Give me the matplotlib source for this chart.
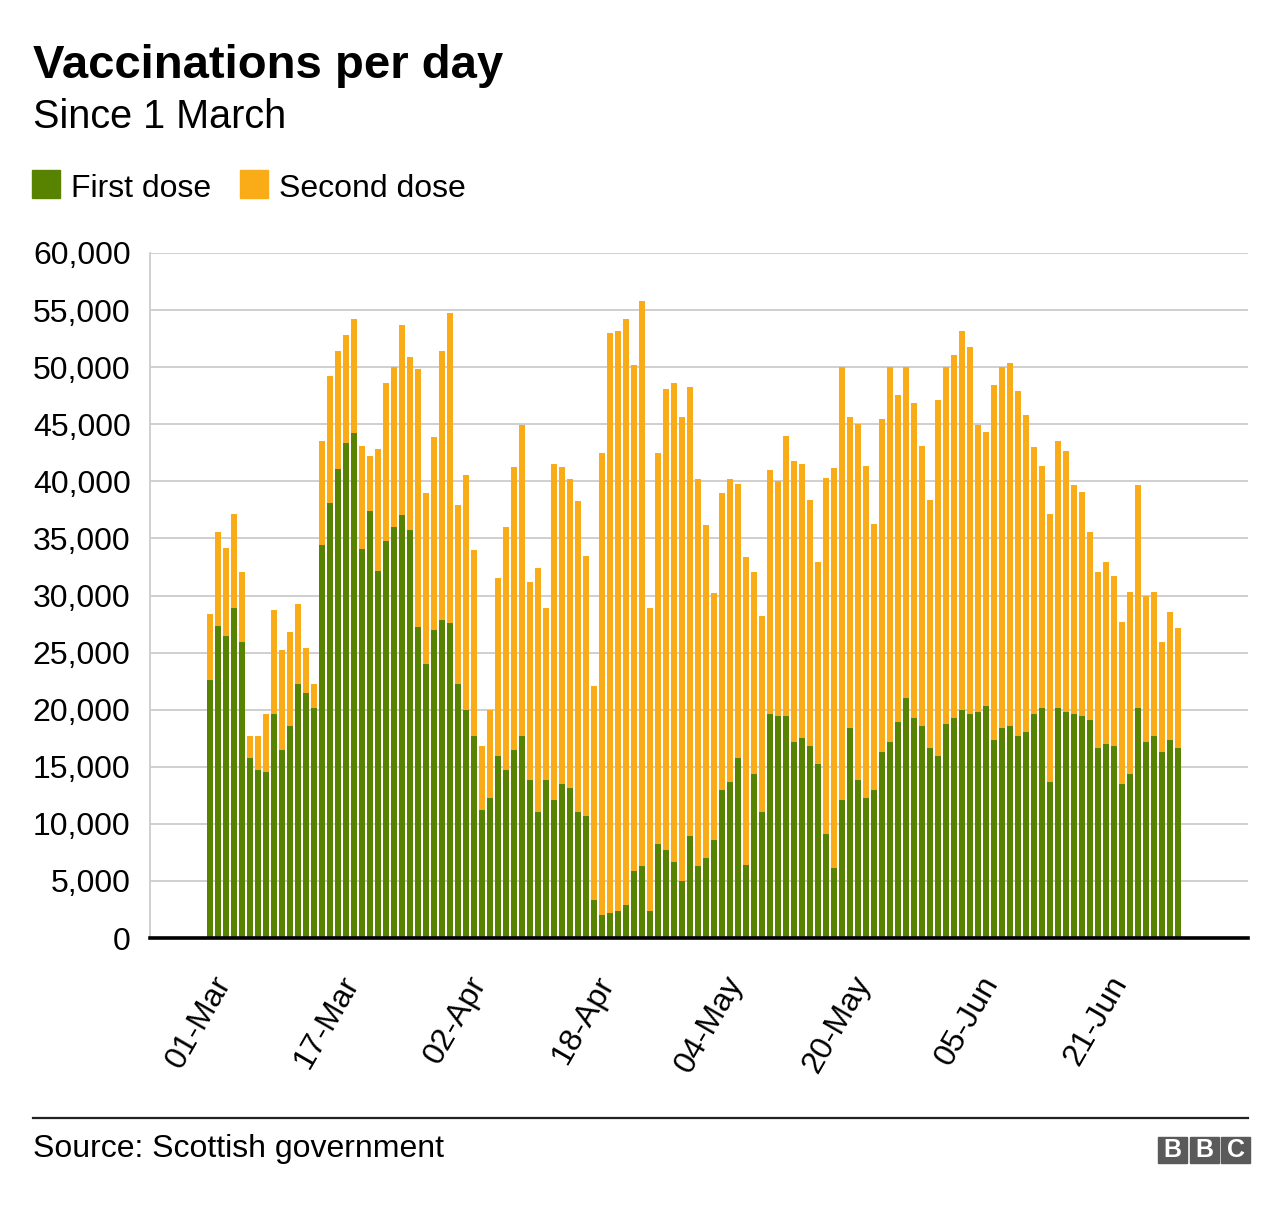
import numpy as np
import pandas as pd
import matplotlib
matplotlib.use("Agg")
import matplotlib.pyplot as plt
from matplotlib.patches import Rectangle
from matplotlib.lines import Line2D
import matplotlib.transforms as mtrans

plt.rcParams['font.family'] = ['Liberation Sans', 'DejaVu Sans']

# daily values, 1 March to 30 June
dates = pd.date_range('2021-03-01', '2021-06-30', freq='D')

first_dose = [
    22620, 27340, 26470, 28910, 25930, 15780, 14730, 14550, 19640, 16470,
    18580, 22250, 21420, 20150, 34400, 38070, 41050, 43340, 44220, 34040,
    37380, 32110, 34730, 35960, 37020, 35780, 27200, 24040, 27020, 27890,
    27560, 22250, 19960, 17710, 11200, 12250, 15960, 14730, 16470, 17710,
    13850, 11020, 13850, 12070, 13490, 13130, 11010, 10660, 3290, 2030,
    2220, 2400, 2920, 5910, 6280, 2400, 8240, 7690, 6620, 5030,
    8940, 6280, 6990, 8570, 12930, 13640, 15780, 6430, 14340, 11010,
    19590, 19420, 19420, 17160, 17490, 16800, 15240, 9090, 6110, 12070,
    18400, 13820, 12250, 12950, 16290, 17160, 18910, 21020, 19270, 18580,
    16650, 15930, 18730, 19270, 19960, 19600, 19780, 20330, 17350, 18400,
    18550, 17670, 18040, 19600, 20150, 13670, 20150, 19780, 19600, 19420,
    19090, 16620, 16980, 16800, 13490, 14360, 20150, 17160, 17710, 16290,
    17350, 16620]

second_dose = [
    5740, 8260, 7710, 8250, 6140, 1890, 2940, 5090, 9120, 8770,
    8220, 7020, 4000, 2070, 9090, 11200, 10370, 9460, 10000, 9090,
    4870, 10690, 13850, 14040, 16680, 15090, 22650, 14900, 16870, 23530,
    27200, 15640, 20580, 16290, 5600, 7710, 15600, 21230, 24760, 27190,
    17350, 21410, 15050, 29490, 27740, 27050, 27240, 22820, 18770, 40430,
    50800, 50810, 51320, 44310, 49520, 26530, 34220, 40380, 42010, 40600,
    39320, 33890, 29150, 21620, 26020, 26530, 24020, 26900, 17730, 17220,
    21440, 20580, 24580, 24580, 24070, 21600, 17700, 31230, 35090, 37930,
    27200, 31230, 29130, 23340, 29130, 32840, 28620, 28980, 27560, 24550,
    21750, 31230, 31270, 31780, 33200, 32140, 25120, 24030, 31050, 31600,
    31780, 30220, 27740, 23380, 21230, 23490, 23340, 22840, 20040, 19670,
    16510, 15450, 15960, 14940, 14220, 15970, 19490, 12800, 12620, 9640,
    11230, 10540]

GREEN = '#588300'
ORANGE = '#FAAB18'
W, H = 1280, 1206

fig = plt.figure(figsize=(W / 100, H / 100), dpi=100)
ax = fig.add_axes([150 / W, 1 - 938 / H, 1098 / W, 685 / H])

x = np.arange(len(dates))
ax.bar(x, first_dose, width=0.75, color=GREEN, zorder=2)
ax.bar(x, second_dose, width=0.75, bottom=first_dose, color=ORANGE, zorder=2)

ax.set_xlim(-7.5, 129.75)
ax.set_ylim(0, 60000)
ax.set_yticks(np.arange(0, 60001, 5000))
ax.set_yticklabels([f'{v:,}' for v in range(0, 60001, 5000)])
ax.grid(axis='y', color='#cccccc', linewidth=1.3, zorder=0)
ax.tick_params(axis='y', length=0, pad=14, labelsize=23)

ticks = x[::16]
ax.set_xticks(ticks)
ax.set_xticklabels([d.strftime('%d-%b') for d in dates[::16]])
ax.tick_params(axis='x', length=0, pad=0, labelsize=23)
offset = mtrans.ScaledTranslation(14 / 100, -40 / 100, fig.dpi_scale_trans)
for lab in ax.get_xticklabels():
    lab.set_rotation(60)
    lab.set_ha('right')
    lab.set_va('center')
    lab.set_rotation_mode('anchor')
    lab.set_transform(lab.get_transform() + offset)

for s in ['top', 'right']:
    ax.spines[s].set_visible(False)
ax.spines['left'].set_color('#cccccc')
ax.spines['left'].set_linewidth(1.3)
ax.spines['bottom'].set_color('black')
ax.spines['bottom'].set_linewidth(2.6)
ax.spines['bottom'].set_zorder(3)


def fx(px):
    return px / W


def fy(py):
    return 1 - py / H


fig.text(fx(33), fy(78), 'Vaccinations per day', fontsize=34, fontweight='bold',
         va='baseline')
fig.text(fx(33), fy(128), 'Since 1 March', fontsize=28.5, va='baseline')

# legend
fig.patches.append(Rectangle((fx(32), fy(198)), 28 / W, 28 / H, color=GREEN,
                             transform=fig.transFigure))
fig.text(fx(71), fy(197), 'First dose', fontsize=23, va='baseline')
fig.patches.append(Rectangle((fx(240), fy(198)), 28 / W, 28 / H, color=ORANGE,
                             transform=fig.transFigure))
fig.text(fx(279), fy(197), 'Second dose', fontsize=23, va='baseline')

# footer
fig.lines.append(Line2D([fx(33), fx(1248)], [fy(1118), fy(1118)], color='#222222',
                        linewidth=1.6, transform=fig.transFigure))
fig.text(fx(33), fy(1157), 'Source: Scottish government', fontsize=23, va='baseline')
for i, letter in enumerate('BBC'):
    x0 = 1158 + i * 31.5
    fig.patches.append(Rectangle((fx(x0), fy(1163)), 29 / W, 26 / H, color='#5a5a5a',
                                 transform=fig.transFigure))
    fig.text(fx(x0 + 14.5), fy(1150), letter, fontsize=18, fontweight='bold',
             color='white', ha='center', va='center')

fig.savefig('out.png', dpi=100)
